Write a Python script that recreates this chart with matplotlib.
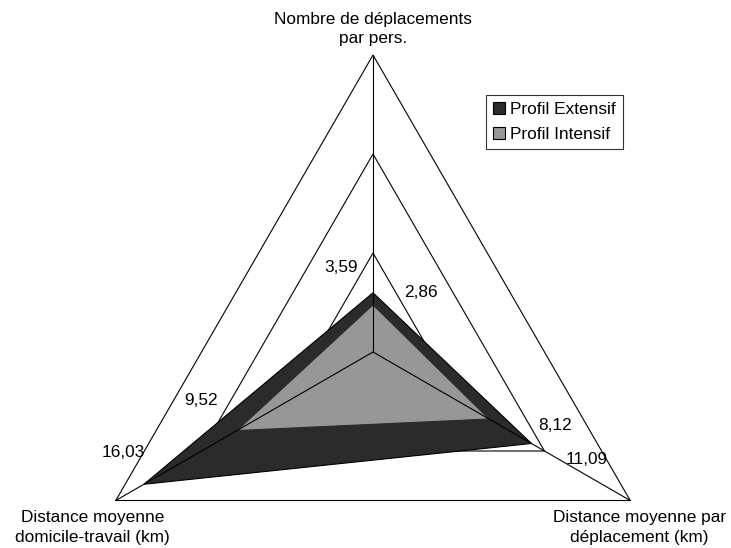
import numpy as np
import matplotlib
matplotlib.use("Agg")
import matplotlib.pyplot as plt
from matplotlib.patches import Patch

# axes of the radar, clockwise from the top
categories = ["Nombre de déplacements\npar pers.",
              "Distance moyenne par\ndéplacement (km)",
              "Distance moyenne\ndomicile-travail (km)"]
extensif = [3.59, 11.09, 16.03]
intensif = [2.86, 8.12, 9.52]
extensif_labels = ["3,59", "11,09", "16,03"]
intensif_labels = ["2,86", "8,12", "9,52"]
grid_levels = [6, 12, 18]
series_names = ["Profil Extensif", "Profil Intensif"]

plt.rcParams['font.family'] = ['Liberation Sans', 'DejaVu Sans']
FS = 12.4

W, H = 731, 548
cx, cy = 373, 352          # centre of the radar in pixels
s = 297 / grid_levels[-1]  # pixels per unit

angles = np.radians([90, -30, 210])


def xy(values):
    v = np.asarray(values, dtype=float)
    return v * np.cos(angles), v * np.sin(angles)


fig = plt.figure(figsize=(W / 100, H / 100), dpi=100)
ax = fig.add_axes([0, 0, 1, 1])
ax.set_xlim(-cx / s, (W - cx) / s)
ax.set_ylim(-(H - cy) / s, cy / s)
ax.axis('off')

# triangular gridlines
for lev in grid_levels:
    gx, gy = xy([lev] * 3)
    ax.fill(gx, gy, facecolor='none', edgecolor='black', lw=0.8, zorder=1)

ex, ey = xy(extensif)
ix, iy = xy(intensif)
ax.fill(ex, ey, facecolor='#2b2b2b', edgecolor='black', lw=0.8, zorder=2)
ax.fill(ix, iy, facecolor='#979797', edgecolor='#2b2b2b', lw=0.8, zorder=3)

# spokes on top
for a in angles:
    ax.plot([0, grid_levels[-1] * np.cos(a)], [0, grid_levels[-1] * np.sin(a)],
            color='black', lw=0.8, zorder=4)

# data labels
ext_off = [(-32, 25), (55, -16), (-21, 32)]
int_off = [(48, 12), (66, -7), (-36, 30)]
for i in range(3):
    ax.annotate(extensif_labels[i], (ex[i], ey[i]), xytext=ext_off[i],
                textcoords='offset pixels', ha='center', va='center', fontsize=FS)
    ax.annotate(intensif_labels[i], (ix[i], iy[i]), xytext=int_off[i],
                textcoords='offset pixels', ha='center', va='center', fontsize=FS)

# category labels
ox, oy = xy([grid_levels[-1]] * 3)
cat_off = [(0, 26), (9, -27), (-23, -27)]
for i, c in enumerate(categories):
    ax.annotate(c, (ox[i], oy[i]), xytext=cat_off[i], textcoords='offset pixels',
                ha='center', va='center', multialignment='center', fontsize=FS,
                linespacing=1.35)

handles = [Patch(facecolor='#2b2b2b', edgecolor='black', lw=0.8),
           Patch(facecolor='#979797', edgecolor='black', lw=0.8)]
leg = fig.legend(handles, series_names, loc='upper left',
                 bbox_to_anchor=(486 / W, 1 - 95 / H), borderaxespad=0,
                 fancybox=False, fontsize=FS, handlelength=0.7, handleheight=0.7,
                 handletextpad=0.3, labelspacing=0.6, borderpad=0.4)
leg.get_frame().set_edgecolor('black')
leg.get_frame().set_linewidth(0.8)

fig.savefig("out.png", dpi=100)
